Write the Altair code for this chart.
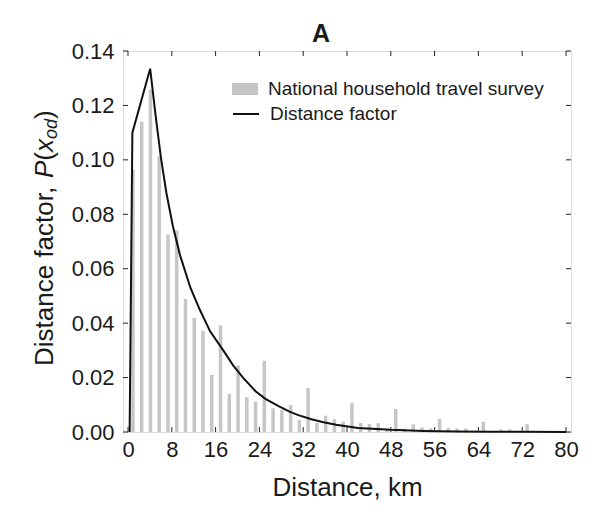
import altair as alt
import pandas as pd

FONT = "Liberation Sans"
TXT = "#1a1a1a"

# Bars: National household travel survey (bin centres in km, share of trips)
bar_km = [0.9, 2.5, 4.1, 5.7, 7.3, 8.9, 10.5, 12.1, 13.7, 15.3, 16.9, 18.5, 20.1, 21.7,
          23.3, 24.9, 26.5, 28.1, 29.7, 31.3, 32.9, 34.5, 36.1, 37.7, 39.3, 40.9, 42.5,
          44.1, 45.7, 47.3, 48.9, 50.5, 52.1, 53.7, 55.3, 56.9, 58.5, 60.1, 61.7, 63.3,
          64.9, 66.5, 68.1, 69.7, 71.3, 72.9]
bar_val = [0.0965, 0.114, 0.1258, 0.1012, 0.0726, 0.0740, 0.0489, 0.0419, 0.0372, 0.0210,
           0.0391, 0.0140, 0.0244, 0.0128, 0.0112, 0.0262, 0.0087, 0.0081, 0.0099, 0.0044,
           0.0162, 0.0033, 0.0060, 0.0047, 0.0038, 0.0106, 0.0033, 0.0029, 0.0032, 0.0012,
           0.0085, 0.0012, 0.0028, 0.0017, 0.0014, 0.0048, 0.0015, 0.0013, 0.0013, 0.0004,
           0.0038, 0.0004, 0.0009, 0.0009, 0.0003, 0.0029]

# Line: Distance factor
line_km = [0.3, 0.8, 4.05, 5.0, 6.0, 7.0, 8.2, 9.5, 11.4, 13.1, 15.0, 17.4, 19.2, 21.0,
           23.3, 25.1, 27.5, 29.5, 31.1, 33.5, 35.5, 38.0, 42.0, 48.0, 54.0, 60.0, 66.0,
           72.0, 80.0]
line_val = [0.0, 0.110, 0.1335, 0.117, 0.101, 0.088, 0.0756, 0.065, 0.053, 0.045, 0.037,
            0.030, 0.0245, 0.020, 0.015, 0.0122, 0.0095, 0.0075, 0.0062, 0.0047, 0.0037,
            0.0027, 0.0015, 0.0008, 0.0004, 0.0002, 0.0001, 0.00005, 0.0]

x_ticks = [0, 8, 16, 24, 32, 40, 48, 56, 64, 72, 80]
y_ticks = [0.0, 0.02, 0.04, 0.06, 0.08, 0.10, 0.12, 0.14]

bar_name = "National household travel survey"
line_name = "Distance factor"

W, H = 448, 381

bars_df = pd.DataFrame({"km": bar_km, "val": bar_val, "series": bar_name})
line_df = pd.DataFrame({"km": line_km, "val": line_val, "series": line_name})
xt_df = pd.DataFrame({"t": x_ticks})
yt_df = pd.DataFrame({"t": y_ticks})

xscale = alt.Scale(domain=[0, 80], nice=False, zero=False)
yscale = alt.Scale(domain=[0, 0.14], nice=False)

xaxis = alt.Axis(values=x_ticks, format="d", title="Distance, km", labelFontSize=22,
                 titleFontSize=26, titleFontWeight="normal", labelFont=FONT, titleFont=FONT,
                 labelColor=TXT, titleColor=TXT, ticks=False, domain=False, grid=False,
                 labelPadding=7, titlePadding=14, labelFlush=False)
yaxis = alt.Axis(values=y_ticks, format=".2f", title=None, labelFontSize=22,
                 labelFont=FONT, labelColor=TXT, ticks=False, domain=False, grid=False,
                 labelPadding=9, labelFlush=False)

bars = alt.Chart(bars_df).mark_bar(size=3.5).encode(
    x=alt.X("km:Q", scale=xscale, axis=xaxis),
    y=alt.Y("val:Q", scale=yscale, axis=yaxis),
    fill=alt.Fill("series:N", scale=alt.Scale(domain=[bar_name], range=["#c6c6c6"]),
                  legend=alt.Legend(title=None, orient="none", legendX=109, legendY=25,
                                    symbolType="M-1,-0.46H1V0.46H-1Z", symbolSize=676,
                                    symbolStrokeWidth=0, labelFont=FONT, labelFontSize=19,
                                    labelColor=TXT, labelOffset=10, padding=0,
                                    labelLimit=500)),
)

line = alt.Chart(line_df).mark_line(strokeWidth=2).encode(
    x=alt.X("km:Q", scale=xscale),
    y=alt.Y("val:Q", scale=yscale),
    stroke=alt.Stroke("series:N", scale=alt.Scale(domain=[line_name], range=["#111111"]),
                      legend=alt.Legend(title=None, orient="none", legendX=109, legendY=49,
                                        symbolType="stroke", symbolSize=676,
                                        symbolStrokeWidth=2, labelFont=FONT,
                                        labelFontSize=19, labelColor=TXT, labelOffset=10,
                                        padding=0, labelLimit=500)),
)

tick_color = "#222222"
bottom_ticks = alt.Chart(xt_df).mark_rule(color=tick_color, strokeWidth=1).encode(
    x=alt.X("t:Q", scale=xscale), y=alt.value(H), y2=alt.value(H - 5))
top_ticks = alt.Chart(xt_df).mark_rule(color=tick_color, strokeWidth=1).encode(
    x=alt.X("t:Q", scale=xscale), y=alt.value(0), y2=alt.value(5))
left_ticks = alt.Chart(yt_df).mark_rule(color=tick_color, strokeWidth=1).encode(
    y=alt.Y("t:Q", scale=yscale), x=alt.value(0), x2=alt.value(5))
right_ticks = alt.Chart(yt_df).mark_rule(color=tick_color, strokeWidth=1).encode(
    y=alt.Y("t:Q", scale=yscale), x=alt.value(W), x2=alt.value(W - 5))

# y-axis title built from pieces so that P and x are italic and "od" is a subscript
pieces = [
    ("Distance factor, ", 315, -78, 26, "normal"),
    ("P", 127, -78, 26, "italic"),
    ("(", 109.7, -78, 26, "normal"),
    ("x", 101, -78, 26, "italic"),
    ("od", 88, -71, 18, "italic"),
    (")", 68, -78, 26, "normal"),
]
ytitle_layers = []
for text, ypos, xpos, size, style in pieces:
    ytitle_layers.append(
        alt.Chart(pd.DataFrame({"label": [text]})).mark_text(
            angle=270, align="left", baseline="middle", font=FONT, fontSize=size,
            fontStyle=style, color=TXT
        ).encode(text="label:N", x=alt.value(xpos), y=alt.value(ypos))
    )

chart = alt.layer(bars, line, bottom_ticks, top_ticks, left_ticks, right_ticks,
                  *ytitle_layers).resolve_legend(fill="independent", stroke="independent").properties(
    width=W, height=H,
    autosize=alt.AutoSizeParams(type="none"),
    padding={"left": 115, "top": 43, "right": 30, "bottom": 70},
    title=alt.TitleParams("A", fontSize=25, fontWeight="bold", font=FONT, color=TXT,
                          anchor="middle", dx=-26, dy=15, offset=8),
).configure_view(stroke="#222222", strokeWidth=1.5).configure(background="white")

chart.save("out.html", embed_options={"renderer": "svg", "actions": False})
